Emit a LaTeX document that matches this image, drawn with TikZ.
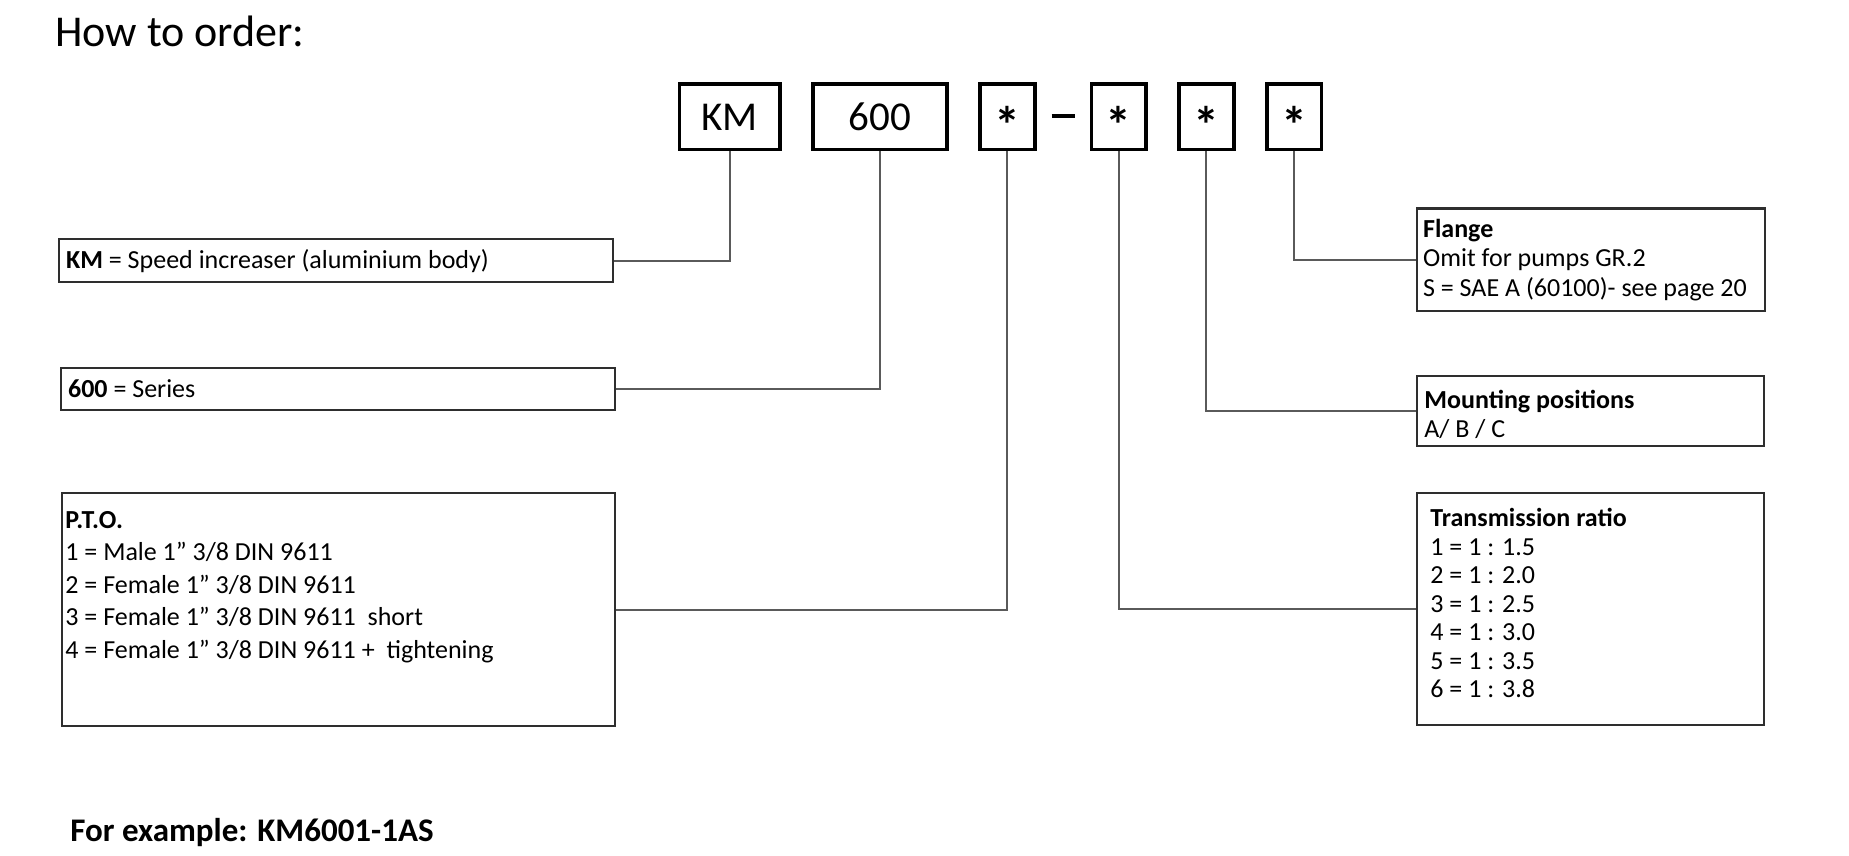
\documentclass[tikz,border=0pt]{standalone}
\usepackage{fontspec}
\setmainfont{Carlito}
\usetikzlibrary{positioning, calc}

\definecolor{boxline}{HTML}{2E2E2E}
\definecolor{linkline}{HTML}{5A5A5A}
\newcommand{\codestar}{\raisebox{-6.8pt}{\fontsize{26}{28}\selectfont\bfseries *}}

\begin{document}
\begin{tikzpicture}[x=0.5pt, y=-0.5pt,
      node distance=14.75pt,
      codebox/.style={draw, line width=1.75pt, minimum height=32.75pt, inner sep=0pt,
        text height=13.2pt, text depth=0pt, font=\fontsize{20.5}{24}\selectfont},
      descbox/.style={draw=boxline, line width=1.1pt, anchor=north west, align=flush left,
        inner xsep=3.5pt, inner ysep=0pt, font=\fontsize{13}{14.75}\selectfont},
      desctext/.style={anchor=north west, align=flush left, inner sep=0pt},
      link/.style={draw=linkline, line width=1pt}]
      \useasboundingbox (0,0) rectangle (1849,856);
      \node[anchor=base west, inner sep=0pt, font=\fontsize{22}{26}\selectfont] (title) at (55,47) {How to order:};

      \node[codebox, minimum width=50.25pt, anchor=north west] (km) at (677.7,82.5) {KM};
      \node[codebox, minimum width=67pt, right=of km]           (series) {600};
      \node[codebox, minimum width=27.4pt, right=of series]     (pto)    {\codestar};
      \node[codebox, minimum width=27.4pt, right=26.5pt of pto] (ratio)  {\codestar};
      \node[codebox, minimum width=27.4pt, right=of ratio]      (mount)  {\codestar};
      \node[codebox, minimum width=27.4pt, right=of mount]      (flange) {\codestar};
      \node[inner sep=0pt] (dash) at ($(pto.east)!0.5!(ratio.west)+(0,-1)$) {\rule{11.5pt}{2pt}};

      \node[descbox, text width=270pt, minimum height=21.5pt] (kmdesc) at (58,238)
        {\textbf{KM} = Speed increaser (aluminium body)};
      \node[descbox, text width=270pt, minimum height=21pt] (seriesdesc) at (60,367)
        {\textbf{600} = Series};
      \node[descbox, minimum width=276.5pt, minimum height=116.5pt] (ptodesc) at (61,492) {};
      \node[desctext, font=\fontsize{13}{16.2}\selectfont] (ptotext) at (65,511)
        {\textbf{P.T.O.}\\
         1 = Male 1” 3/8 DIN 9611\\
         2 = Female 1” 3/8 DIN 9611\\
         3 = Female 1” 3/8 DIN 9611\ \ short\\
         4 = Female 1” 3/8 DIN 9611 +\ \ tightening};

      \node[descbox, text width=168pt, inner xsep=3pt, minimum height=51.25pt] (flangedesc) at (1416,207.5)
        {\textbf{Flange}\\Omit for pumps GR.2\\S = SAE A (60100)- see page 20};
      \node[descbox, minimum width=173.5pt, minimum height=34.75pt] (mountdesc) at (1416,375) {};
      \node[desctext, font=\fontsize{13}{14.5}\selectfont] (mounttext) at (1424,390)
        {\textbf{Mounting positions}\\A/ B / C};
      \node[descbox, minimum width=173.5pt, minimum height=116pt] (ratiodesc) at (1416,492) {};
      \node[desctext, font=\fontsize{13}{14.25}\selectfont] (ratiotext) at (1430,508)
        {\textbf{Transmission ratio}\\
         1 = 1 : 1.5\\2 = 1 : 2.0\\3 = 1 : 2.5\\4 = 1 : 3.0\\5 = 1 : 3.5\\6 = 1 : 3.8};

      \draw[link] (km.south) |- (kmdesc.east);
      \draw[link] (series.south) |- (seriesdesc.east);
      \draw[link] (pto.south) |- (ptodesc.east);
      \draw[link] (ratio.south) |- (ratiodesc.west);
      \draw[link] (mount.south) |- (mountdesc.west);
      \draw[link] (flange.south) |- (flangedesc.west);

      \node[anchor=base west, inner sep=0pt, font=\bfseries\fontsize{16.5}{20}\selectfont] (example) at (70,841)
        {For example: KM6001-1AS};
    \end{tikzpicture}
\end{document}
